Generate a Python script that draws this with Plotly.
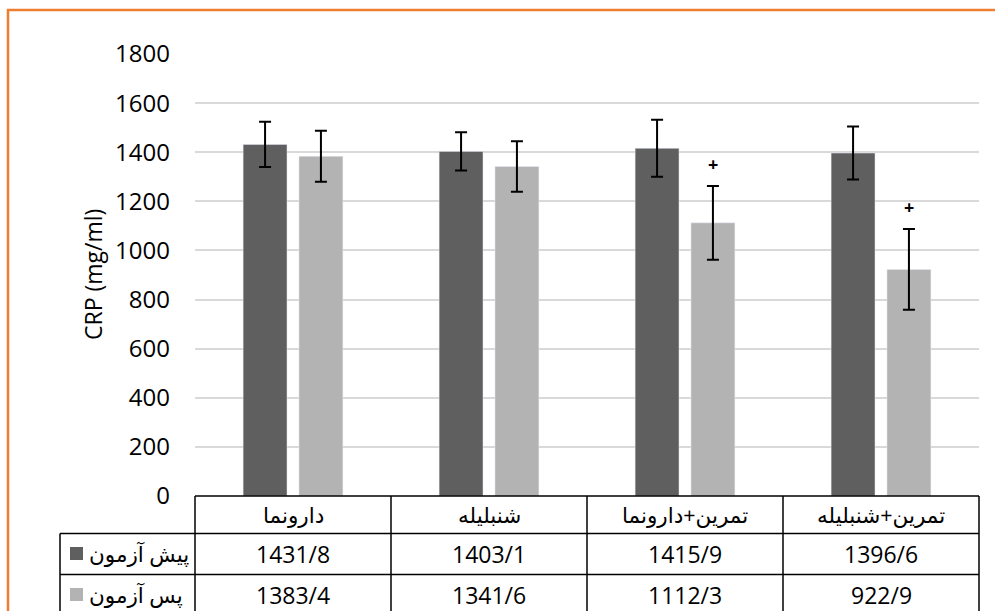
import plotly.graph_objects as go

# Groups and measurements (CRP, mg/ml)
groups = ["دارونما", "شنبلیله", "تمرین+دارونما", "تمرین+شنبلیله"]
series_names = ["پیش آزمون", "پس آزمون"]
pre_test = [1431.8, 1403.1, 1415.9, 1396.6]
post_test = [1383.4, 1341.6, 1112.3, 922.9]
pre_sd = [92, 78, 116, 108]
post_sd = [104, 103, 150, 164]
post_marks = ["", "", "+", "+"]
y_ticks = [0, 200, 400, 600, 800, 1000, 1200, 1400, 1600, 1800]

# Styling
DARK = "#5f5f5f"
LIGHT = "#b3b3b3"
ORANGE = "#ED7D31"
FONT = "Open Sans, DejaVu Sans, sans-serif"
FS = 23
FS_FA = 21.5

# Canvas and plot-area geometry (pixels)
W, H = 995, 611
ML, MR, MT, MB = 195, 16, 54, 115
PW, PH = W - ML - MR, H - MT - MB


def fx(px):
    """pixel x -> paper x"""
    return (px - ML) / PW


def fy(py):
    """pixel y -> paper y"""
    return (H - MB - py) / PH


def fmt(v):
    return f"{v:.1f}".replace(".", "/")


fig = go.Figure()
fig.add_trace(go.Bar(
    x=groups, y=pre_test, name=series_names[0], marker_color=DARK,
    error_y=dict(type="data", array=pre_sd, color="black", thickness=2, width=6),
))
fig.add_trace(go.Bar(
    x=groups, y=post_test, name=series_names[1], marker_color=LIGHT,
    error_y=dict(type="data", array=post_sd, color="black", thickness=2, width=6),
))

annotations = []
shapes = []

# significance marks above post-test bars
for g, v, sd, m in zip(groups, post_test, post_sd, post_marks):
    if m:
        annotations.append(dict(
            x=g, y=v + sd, xref="x", yref="y", text=f"<b>{m}</b>", showarrow=False,
            xshift=28, yshift=22, yanchor="middle",
            font=dict(family=FONT, size=18, color="black"),
        ))

# y-axis title
annotations.append(dict(
    x=fx(93), y=0.5, xref="paper", yref="paper", text="CRP (mg/ml)",
    textangle=-90, showarrow=False, xanchor="center", yanchor="middle",
    font=dict(family=FONT, size=FS, color="black"),
))

# data table below the plot
row_y = [fy(514.5), fy(553.5), fy(594.5)]
n = len(groups)
for i, g in enumerate(groups):
    annotations.append(dict(
        x=g, y=row_y[0], xref="x", yref="paper", text=g, showarrow=False,
        xanchor="center", yanchor="middle", font=dict(family=FONT, size=FS_FA, color="black"),
    ))
    for r, vals in enumerate([pre_test, post_test]):
        annotations.append(dict(
            x=g, y=row_y[r + 1], xref="x", yref="paper", text=fmt(vals[i]), showarrow=False,
            xanchor="center", yanchor="middle", font=dict(family=FONT, size=FS, color="black"),
        ))

for r, (name, col) in enumerate(zip(series_names, [DARK, LIGHT])):
    shapes.append(dict(
        type="rect", xref="paper", yref="paper",
        x0=fx(70), x1=fx(83), y0=row_y[r + 1] - 6.5 / PH, y1=row_y[r + 1] + 6.5 / PH,
        fillcolor=col, line=dict(width=0),
    ))
    annotations.append(dict(
        x=fx(87), y=row_y[r + 1], xref="paper", yref="paper", text=name, showarrow=False,
        xanchor="left", yanchor="middle", font=dict(family=FONT, size=FS_FA, color="black"),
    ))

line = dict(color="black", width=1.5)
bottom = fy(660)
# horizontal rules
shapes.append(dict(type="line", xref="paper", yref="paper", x0=0, x1=1, y0=0, y1=0, line=line))
for py in (533.5, 574.5):
    shapes.append(dict(type="line", xref="paper", yref="paper",
                       x0=fx(60), x1=1, y0=fy(py), y1=fy(py), line=line))
# vertical rules at category boundaries
for k in range(n + 1):
    shapes.append(dict(type="line", xref="paper", yref="paper",
                       x0=k / n, x1=k / n, y0=0, y1=bottom, line=line))
shapes.append(dict(type="line", xref="paper", yref="paper",
                   x0=fx(60), x1=fx(60), y0=fy(533.5), y1=bottom, line=line))

# chart frame
shapes.append(dict(type="rect", xref="paper", yref="paper",
                   x0=fx(8), x1=fx(1010), y0=fy(10), y1=fy(700),
                   line=dict(color=ORANGE, width=2.5), fillcolor="rgba(0,0,0,0)"))

fig.update_layout(
    width=W, height=H,
    margin=dict(l=ML, r=MR, t=MT, b=MB, autoexpand=False),
    paper_bgcolor="white", plot_bgcolor="white",
    barmode="group", bargap=0.43, bargroupgap=0.214,
    showlegend=False,
    font=dict(family=FONT, size=FS, color="black"),
    xaxis=dict(showticklabels=False, showgrid=False, zeroline=False, showline=False,
               range=[-0.5, n - 0.5]),
    yaxis=dict(range=[0, 1800], tickvals=y_ticks, showgrid=True, gridcolor="#d9d9d9",
               gridwidth=1.5, zeroline=False, showline=False, ticks="",
               ticklabelstandoff=24,
               tickfont=dict(family=FONT, size=24, color="black")),
    annotations=annotations,
    shapes=shapes,
)

fig.write_html("out.html")
